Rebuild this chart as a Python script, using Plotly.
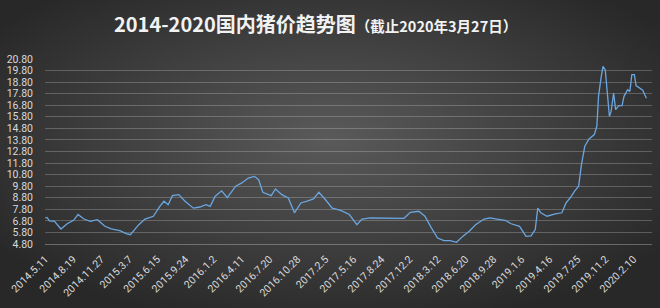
import base64
import plotly.graph_objects as go

# ---- data ----
dates = [
    "2014-05-11", "2014-05-17", "2014-05-26", "2014-06-13", "2014-07-06", "2014-07-28",
    "2014-08-20", "2014-09-05", "2014-09-26", "2014-10-19", "2014-11-13", "2014-12-10",
    "2015-01-02", "2015-02-01", "2015-02-24", "2015-03-11", "2015-04-10", "2015-05-02",
    "2015-06-01", "2015-06-24", "2015-07-09", "2015-07-24", "2015-08-08", "2015-08-31",
    "2015-09-22", "2015-10-22", "2015-11-14", "2015-12-06", "2015-12-21", "2016-01-08",
    "2016-01-31", "2016-02-20", "2016-03-21", "2016-04-12", "2016-05-05", "2016-05-27",
    "2016-06-11", "2016-06-26", "2016-07-26", "2016-08-10", "2016-09-02", "2016-09-25",
    "2016-10-17", "2016-11-09", "2016-12-01", "2016-12-24", "2017-01-12", "2017-01-30",
    "2017-03-01", "2017-03-31", "2017-05-01", "2017-05-28", "2017-06-15", "2017-07-15",
    "2017-11-12", "2017-12-05", "2018-01-04", "2018-01-26", "2018-02-18", "2018-03-12",
    "2018-04-04", "2018-04-26", "2018-05-19", "2018-06-10", "2018-07-03", "2018-07-26",
    "2018-08-25", "2018-09-16", "2018-10-09", "2018-11-08", "2018-11-30", "2018-12-30",
    "2019-01-22", "2019-02-09", "2019-02-24", "2019-03-05", "2019-03-16", "2019-04-07",
    "2019-05-07", "2019-05-30", "2019-06-14", "2019-06-29", "2019-07-14", "2019-07-29",
    "2019-08-08", "2019-08-20", "2019-09-04", "2019-09-23", "2019-10-02", "2019-10-08",
    "2019-10-17", "2019-10-24", "2019-11-01", "2019-11-07", "2019-11-16", "2019-11-22",
    "2019-12-01", "2019-12-08", "2019-12-19", "2019-12-31", "2020-01-07", "2020-01-20",
    "2020-01-28", "2020-02-04", "2020-02-13", "2020-02-19", "2020-03-02", "2020-03-14",
    "2020-03-27",
]
prices = [
    7.05, 7.10, 6.80, 6.76, 6.10, 6.55,
    6.85, 7.35, 6.96, 6.76, 6.90, 6.33,
    6.10, 5.95, 5.70, 5.60, 6.47, 6.96,
    7.20, 8.06, 8.50, 8.20, 8.98, 9.07,
    8.50, 7.90, 8.00, 8.20, 8.06, 8.93,
    9.40, 8.80, 9.80, 10.08, 10.50, 10.65,
    10.36, 9.27, 8.98, 9.56, 9.07, 8.78,
    7.50, 8.35, 8.50, 8.70, 9.27, 8.80,
    7.90, 7.70, 7.35, 6.47, 6.96, 7.05,
    7.02, 7.54, 7.63, 7.20, 6.20, 5.32,
    5.10, 5.10, 4.95, 5.46, 5.90, 6.47,
    6.96, 7.05, 6.96, 6.85, 6.55, 6.33,
    5.46, 5.50, 6.05, 7.90, 7.50, 7.20,
    7.40, 7.50, 8.35, 8.80, 9.36, 9.80,
    11.66, 13.25, 13.88, 14.26, 14.98, 17.57,
    19.16, 20.17, 19.88, 18.30, 15.84, 16.27,
    17.86, 16.42, 16.76, 16.76, 17.57, 18.15,
    18.00, 19.45, 19.45, 18.50, 18.30, 18.10,
    17.40,
]
tick_dates = [
    "2014-05-11", "2014-08-19", "2014-11-27", "2015-03-07", "2015-06-15", "2015-09-24",
    "2016-01-02", "2016-04-11", "2016-07-20", "2016-10-28", "2017-02-05", "2017-05-16",
    "2017-08-24", "2017-12-02", "2018-03-12", "2018-06-20", "2018-09-28", "2019-01-06",
    "2019-04-16", "2019-07-25", "2019-11-02", "2020-02-10",
]
tick_labels = [
    "2014.5.11", "2014.8.19", "2014.11.27", "2015.3.7", "2015.6.15", "2015.9.24",
    "2016.1.2", "2016.4.11", "2016.7.20", "2016.10.28", "2017.2.5", "2017.5.16",
    "2017.8.24", "2017.12.2", "2018.3.12", "2018.6.20", "2018.9.28", "2019.1.6",
    "2019.4.16", "2019.7.25", "2019.11.2", "2020.2.10",
]
y_ticks = [4.8 + i for i in range(17)]
title_main = "2014-2020国内猪价趋势图"
title_sub = "（截止2020年3月27日）"

# ---- layout geometry ----
W, H = 660, 308
ML, MR, MT, MB = 45, 8, 59, 64
PW, PH = W - ML - MR, H - MT - MB

svg = (
    '<svg xmlns="http://www.w3.org/2000/svg" width="660" height="308">'
    '<defs><radialGradient id="g" cx="50%" cy="45%" r="62%">'
    '<stop offset="0" stop-color="#5a5a5a"/>'
    '<stop offset="1" stop-color="#282828"/>'
    '</radialGradient></defs>'
    '<rect width="660" height="308" fill="url(#g)"/></svg>'
)
bg_src = "data:image/svg+xml;base64," + base64.b64encode(svg.encode()).decode()

fig = go.Figure()
fig.add_trace(go.Scatter(
    x=dates, y=prices, mode="lines",
    line=dict(color="#6aa6e0", width=1.3),
    hoverinfo="x+y", showlegend=False,
))

fig.update_layout(
    width=W, height=H,
    margin=dict(l=ML, r=MR, t=MT, b=MB, pad=0),
    paper_bgcolor="#404040",
    plot_bgcolor="rgba(0,0,0,0)",
    font=dict(family="Noto Sans CJK SC, Roboto, sans-serif", color="#d9d9d9"),
    images=[dict(
        source=bg_src, xref="paper", yref="paper",
        x=-ML / PW, y=1 + MT / PH, sizex=W / PW, sizey=H / PH,
        sizing="stretch", xanchor="left", yanchor="top", layer="below",
    )],
    xaxis=dict(
        type="date",
        range=["2014-05-10", "2020-04-16"],
        tickmode="array", tickvals=tick_dates, ticktext=tick_labels,
        tickangle=-45,
        tickfont=dict(family="Roboto, sans-serif", size=10.5, color="#d9d9d9"),
        showgrid=False, zeroline=False,
        showline=True, linecolor="rgba(217,217,217,0.35)", linewidth=1,
        ticks="", ticklabelstandoff=4,
    ),
    yaxis=dict(
        range=[4.8, 20.8],
        tickmode="array", tickvals=y_ticks,
        ticktext=[f"{v:.2f}" for v in y_ticks],
        tickfont=dict(family="Roboto, sans-serif", size=10.5, color="#d9d9d9"),
        showgrid=True, gridcolor="rgba(217,217,217,0.28)", gridwidth=1,
        zeroline=False, showline=False, ticks="", ticklabelstandoff=11,
    ),
    annotations=[dict(
        xref="paper", yref="paper",
        x=(315 - ML) / PW, y=1 + (MT - 23) / PH,
        xanchor="center", yanchor="middle", showarrow=False,
        text=(f"<b>{title_main}</b>"
              f"<span style='font-size:14.5px'><b>{title_sub}</b></span>"),
        font=dict(family="Noto Sans CJK SC, sans-serif", size=20, color="#f2f2f2"),
    )],
)

fig.write_html("out.html")
